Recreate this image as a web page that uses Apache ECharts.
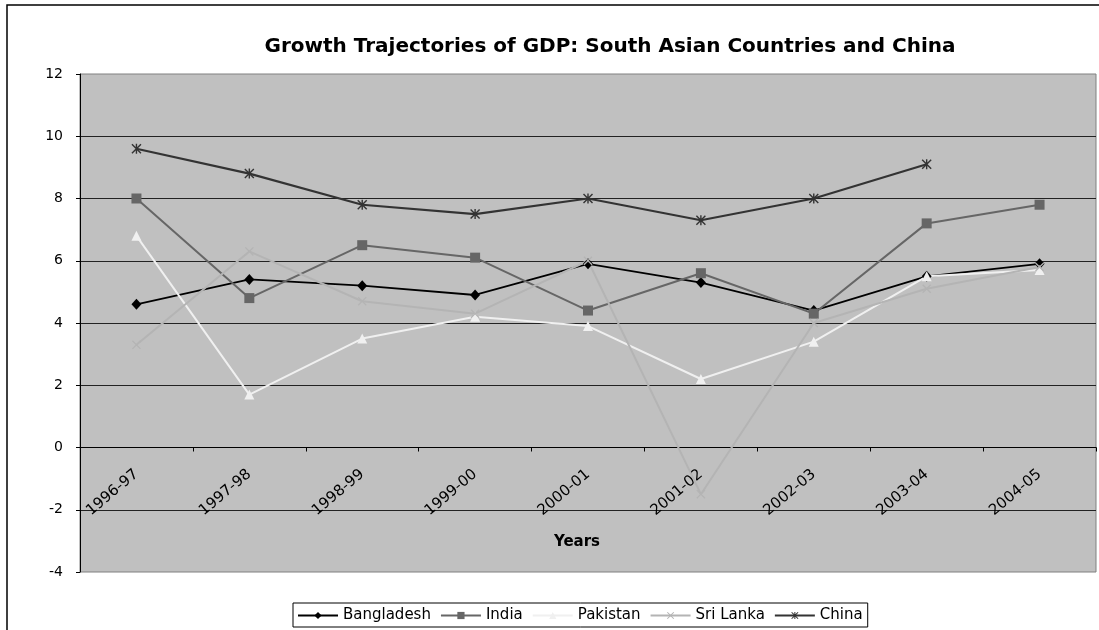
<!DOCTYPE html>
<html>
<head>
<meta charset="utf-8">
<script src="https://cdn.jsdelivr.net/npm/echarts@6/dist/echarts.min.js"></script>
<style>
html,body{margin:0;padding:0;background:#fff;}
#chart{width:1099px;height:630px;}
</style>
</head>
<body>
<div id="chart"></div>
<script>
const categories = ['1996-97','1997-98','1998-99','1999-00','2000-01','2001-02','2002-03','2003-04','2004-05'];
const bangladesh = [4.6, 5.4, 5.2, 4.9, 5.9, 5.3, 4.4, 5.5, 5.9];
const india      = [8.0, 4.8, 6.5, 6.1, 4.4, 5.6, 4.3, 7.2, 7.8];
const pakistan   = [6.8, 1.7, 3.5, 4.2, 3.9, 2.2, 3.4, 5.5, 5.7];
const sriLanka   = [3.3, 6.3, 4.7, 4.3, 6.0, -1.5, 4.0, 5.1, 5.8];
const china      = [9.6, 8.8, 7.8, 7.5, 8.0, 7.3, 8.0, 9.1, null];
const yTicks = {min: -4, max: 12, interval: 2};

const FONT = 'DejaVu Sans';
const xSym = 'path://M0,1L1,0L5,4L9,0L10,1L6,5L10,9L9,10L5,6L1,10L0,9L4,5Z';
const starSym = 'path://M0,1L1,0L5,4L9,0L10,1L6,5L10,9L9,10L5,6L1,10L0,9L4,5Z M4.3,0L5.7,0L5.7,10L4.3,10Z';

const GRID = {left: 80, right: 3, top: 74, bottom: 58};
const plotH = 630 - GRID.top - GRID.bottom;
// move category axis up to the zero line
const xOffset = -plotH * (0 - yTicks.min) / (yTicks.max - yTicks.min);

function mk(name, data, color, symbol, size, width) {
  return {
    name: name, type: 'line', data: data,
    symbol: symbol, symbolSize: size, showSymbol: true,
    connectNulls: false,
    lineStyle: {color: color, width: width},
    itemStyle: {color: color},
    emphasis: {disabled: true},
    animation: false
  };
}

const chart = echarts.init(document.getElementById('chart'), null, {renderer: 'canvas'});
chart.setOption({
  animation: false,
  backgroundColor: '#ffffff',
  title: {
    text: 'Growth Trajectories of GDP: South Asian Countries and China',
    left: 605, top: 32, textAlign: 'center',
    textStyle: {fontFamily: FONT, fontSize: 20, fontWeight: 'bold', color: '#000'}
  },
  graphic: [
    {type: 'rect', shape: {x: 7, y: 5, width: 1120, height: 660}, style: {fill: 'none', stroke: '#000', lineWidth: 1.5}, silent: true, z: 100},
    {type: 'text', x: 577, y: 542, style: {text: 'Years', font: 'bold 15px "DejaVu Sans"', fill: '#000', textAlign: 'center', textVerticalAlign: 'middle'}, z: 100}
  ],
  legend: {
    left: 293, top: 603,
    orient: 'horizontal',
    backgroundColor: '#fff',
    borderColor: '#000', borderWidth: 1,
    padding: [5, 5, 4, 4],
    itemWidth: 40, itemHeight: 9, itemGap: 9,
    textStyle: {fontFamily: FONT, fontSize: 15, color: '#000'},
    data: ['Bangladesh','India','Pakistan','Sri Lanka','China']
  },
  grid: {left: GRID.left, right: GRID.right, top: GRID.top, bottom: GRID.bottom, show: true, backgroundColor: '#c0c0c0', borderColor: '#808080', borderWidth: 1},
  xAxis: {
    type: 'category', data: categories, boundaryGap: true,
    offset: xOffset,
    axisLine: {show: true, onZero: false, lineStyle: {color: '#000', width: 1}},
    axisTick: {show: true, length: 4, lineStyle: {color: '#000'}},
    axisLabel: {rotate: 40, margin: 25, color: '#000', fontFamily: FONT, fontSize: 15, interval: 0},
    splitLine: {show: false}
  },
  yAxis: {
    type: 'value', min: yTicks.min, max: yTicks.max, interval: yTicks.interval,
    axisLine: {show: true, lineStyle: {color: '#000', width: 1}},
    axisTick: {show: true, length: 4, lineStyle: {color: '#000'}},
    axisLabel: {margin: 17, color: '#000', fontFamily: FONT, fontSize: 14},
    splitLine: {show: true, showMaxLine: false, showMinLine: false, lineStyle: {color: '#222', width: 1.2}}
  },
  series: [
    mk('Bangladesh', bangladesh, '#000000', 'diamond', [10, 11], 1.8),
    mk('India', india, '#666666', 'rect', 10, 2),
    mk('Pakistan', pakistan, '#f0f0f0', 'triangle', 10, 2),
    mk('Sri Lanka', sriLanka, '#b4b4b4', xSym, 9, 2),
    mk('China', china, '#333333', starSym, 10, 2.2)
  ]
});
</script>
</body>
</html>
